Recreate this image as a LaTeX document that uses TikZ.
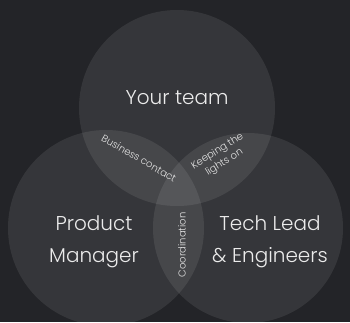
\documentclass[tikz,border=0pt]{standalone}
\usepackage{fontspec}
\setmainfont{Poppins}[UprightFont=* Light]
\begin{document}
\begin{tikzpicture}[x=1pt,y=-1pt,
  venn/.style={fill=white,fill opacity=0.085,draw=none},
  big/.style={text=white!92!black,font=\fontsize{20}{32}\selectfont,align=center},
  small/.style={text=white!90!black,font=\fontsize{10}{13}\selectfont,align=center,inner sep=1pt}]
\fill[fill={rgb,255:red,35;green,36;blue,40}] (0,0) rectangle (350,322);
\useasboundingbox (0,0) rectangle (350,322);
\begin{scope}
\clip (0,0) rectangle (350,322);
\fill[venn] (177,108) circle (98);
\fill[venn] (106,228) circle (98);
\fill[venn] (248,228) circle (95);
\end{scope}
\node[big] (team) at (177,98) {Your team};
\node[big] (pm) at (94,242) {Product\\Manager};
\node[big] (tech) at (270,242) {Tech Lead\\\& Engineers};
\node[small,rotate=-30] (biz) at (139,158) {Business contact};
\node[small,rotate=32] (keep) at (221,157) {Keeping the\\lights on};
\node[small,rotate=90] (coord) at (182,245) {Coordination};
\end{tikzpicture}
\end{document}
